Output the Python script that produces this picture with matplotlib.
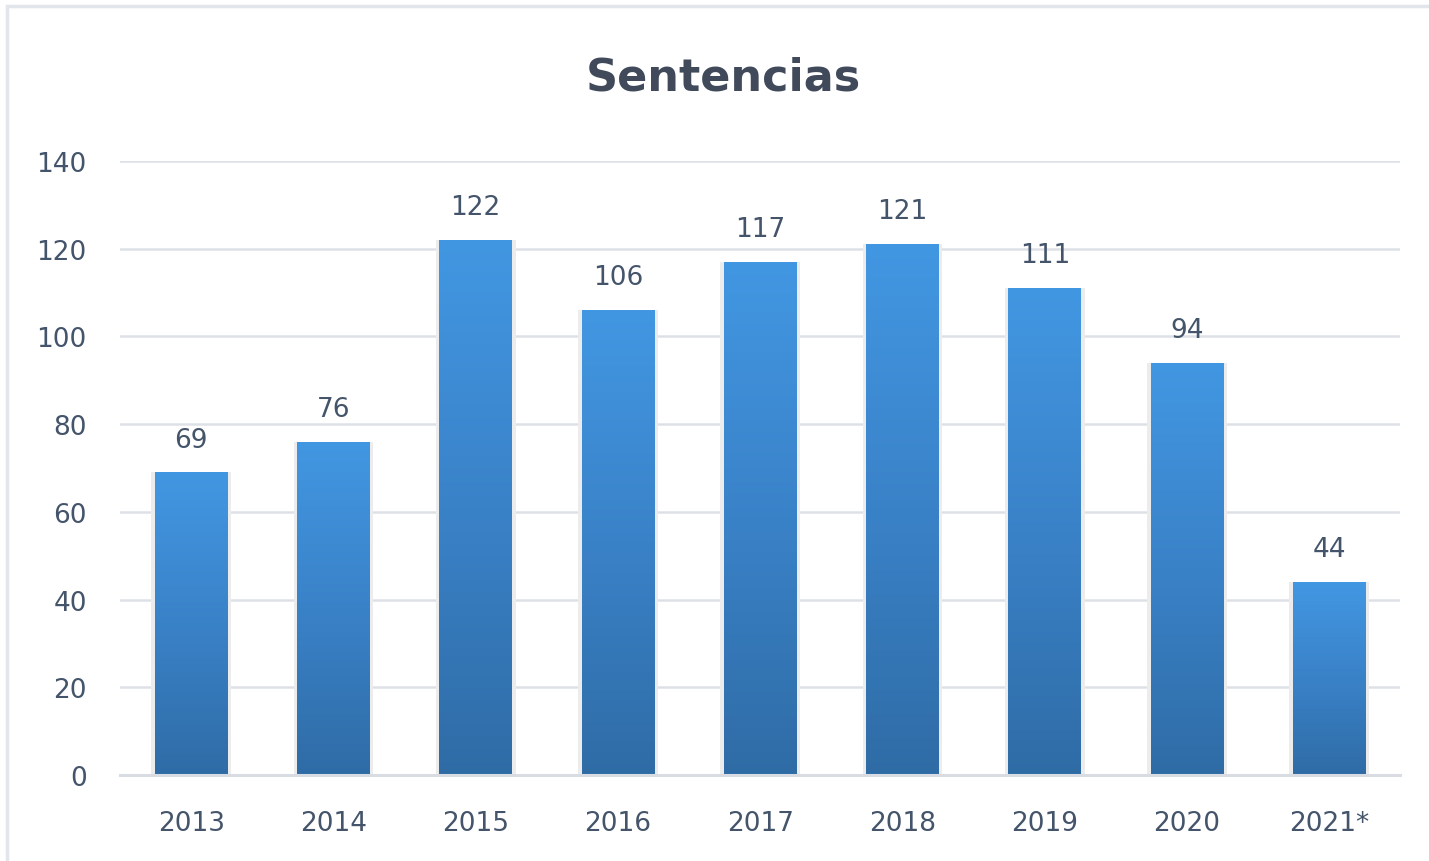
import numpy as np
import matplotlib.pyplot as plt
from matplotlib.patches import Rectangle
from matplotlib.colors import LinearSegmentedColormap

# data
years = ["2013", "2014", "2015", "2016", "2017", "2018", "2019", "2020", "2021*"]
sentencias = [69, 76, 122, 106, 117, 121, 111, 94, 44]
y_ticks = [0, 20, 40, 60, 80, 100, 120, 140]

plt.rcParams["font.family"] = ["DejaVu Sans"]
text_color = "#44546a"

fig = plt.figure(figsize=(14.29, 8.62), dpi=100)
ax = fig.add_axes([0.084, 0.0998, 0.896, 0.7124])

# light frame around the whole chart
fig.patches.append(Rectangle((0.005, -0.01), 1.0, 1.002, transform=fig.transFigure,
                             fill=False, edgecolor="#e2e5ea", linewidth=2.5))

x = np.arange(len(years))
width = 0.51
cmap = LinearSegmentedColormap.from_list("bar", ["#2f6ca6", "#3a82c8", "#4297e2"])
grad = np.linspace(0, 1, 256).reshape(-1, 1)

# faint shadow behind bars
ax.bar(x, sentencias, width=width + 0.05, color="#ececec", zorder=2)
bars = ax.bar(x, sentencias, width=width, color="none", zorder=3)
for b in bars:
    x0, y0 = b.get_x(), b.get_y()
    w, h = b.get_width(), b.get_height()
    im = ax.imshow(grad, extent=[x0, x0 + w, y0, y0 + h], origin="lower",
                   cmap=cmap, aspect="auto", zorder=3)
    im.set_clip_path(b)

for xi, v in zip(x, sentencias):
    ax.text(xi, v + 4.5, str(v), ha="center", va="bottom", fontsize=19, color=text_color)

ax.set_xlim(-0.5, len(years) - 0.5)
ax.set_ylim(0, 140)
ax.set_yticks(y_ticks)
ax.set_xticks(x)
ax.set_xticklabels(years)
ax.tick_params(axis="both", length=0, labelsize=19, labelcolor=text_color)
ax.tick_params(axis="x", pad=25)
ax.tick_params(axis="y", pad=24)
ax.grid(axis="y", color="#dde1e6", linewidth=1.8, zorder=0)
ax.axhline(0, color="#d9dde3", linewidth=2.2, clip_on=False, zorder=4)
ax.set_axisbelow(True)
for s in ax.spines.values():
    s.set_visible(False)

fig.text(0.506, 0.91, "Sentencias", ha="center", va="center", fontsize=32,
         fontweight="bold", color="#404a5a")

plt.savefig("out.png", dpi=100)
